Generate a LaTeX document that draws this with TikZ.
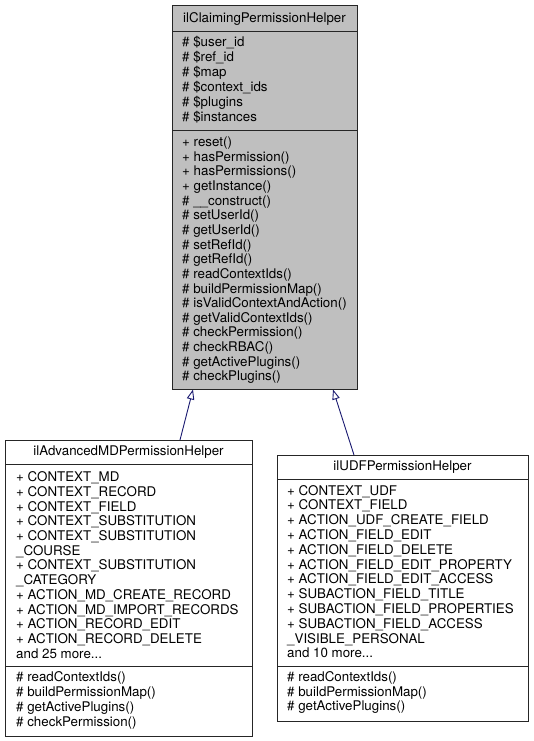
\documentclass[tikz,border=0pt]{standalone}
\usepackage{fontspec}
\setmainfont{TeX Gyre Heros}
\usetikzlibrary{arrows.meta}
\definecolor{grey75}{RGB}{191,191,191}
\definecolor{midnightblue}{RGB}{25,25,112}
\newcommand{\moredots}{...}
\tikzset{
  classbox/.style={draw=black!85, line width=0.9pt, inner sep=0pt, outer sep=0pt, anchor=north west},
  sepline/.style={draw=black!85, line width=0.9pt},
  member/.style={inner sep=0pt, anchor=base west, font=\fontsize{13.33}{14.7}\selectfont},
  classname/.style={inner sep=0pt, anchor=base, font=\fontsize{13.33}{14.7}\selectfont},
  inherit/.style={midnightblue, line width=0.9pt, -{Triangle[open, length=10pt, width=7.5pt]}},
}

\begin{document}
\begin{tikzpicture}[x=1pt, y=-1pt]
  \useasboundingbox (0,0) rectangle (533,741);
  % base class (grey, the one the page is about)
  \node[classbox, fill=grey75, minimum width=185pt, minimum height=384pt] (base) at (172,5) {};
  \draw[sepline] (172,31) -- (357,31) (172,130) -- (357,130);
  \node[classname] (base_name) at (264.5,23) {ilClaimingPermissionHelper};
  \foreach \txt [count=\i from 0] in {\# \$user\_id, \# \$ref\_id, \# \$map,
      \# \$context\_ids, \# \$plugins, \# \$instances} {
    \node[member] (base_a\i) at (182,47+14.9*\i) {\txt};
  }
  \foreach \txt [count=\i from 0] in {+ reset(), + hasPermission(), + hasPermissions(),
      + getInstance(), \# \_\_construct(), \# setUserId(), \# getUserId(), \# setRefId(),
      \# getRefId(), \# readContextIds(), \# buildPermissionMap(),
      \# isValidContextAndAction(), \# getValidContextIds(), \# checkPermission(),
      \# checkRBAC(), \# getActivePlugins(), \# checkPlugins()} {
    \node[member] (base_m\i) at (182,146.5+14.65*\i) {\txt};
  }

  % derived class: advanced metadata
  \node[classbox, fill=white, minimum width=247pt, minimum height=296pt] (advmd) at (5,440) {};
  \draw[sepline] (5,464) -- (252,464) (5,666) -- (252,666);
  \node[classname] (advmd_name) at (128.5,455.5) {ilAdvancedMDPermissionHelper};
  \foreach \txt [count=\i from 0] in {+ CONTEXT\_MD, + CONTEXT\_RECORD, + CONTEXT\_FIELD,
      + CONTEXT\_SUBSTITUTION, + CONTEXT\_SUBSTITUTION, \_COURSE, + CONTEXT\_SUBSTITUTION,
      \_CATEGORY, + ACTION\_MD\_CREATE\_RECORD, + ACTION\_MD\_IMPORT\_RECORDS,
      + ACTION\_RECORD\_EDIT, + ACTION\_RECORD\_DELETE, and 25 more\moredots} {
    \node[member] (advmd_a\i) at (16,481.7+14.7*\i) {\txt};
  }
  \foreach \txt [count=\i from 0] in {\# readContextIds(), \# buildPermissionMap(),
      \# getActivePlugins(), \# checkPermission()} {
    \node[member] (advmd_m\i) at (16,681.7+14.9*\i) {\txt};
  }

  % derived class: user defined fields
  \node[classbox, fill=white, minimum width=251pt, minimum height=266pt] (udf) at (277,455) {};
  \draw[sepline] (277,479) -- (528,479) (277,666) -- (528,666);
  \node[classname] (udf_name) at (402.5,470) {ilUDFPermissionHelper};
  \foreach \txt [count=\i from 0] in {+ CONTEXT\_UDF, + CONTEXT\_FIELD,
      + ACTION\_UDF\_CREATE\_FIELD, + ACTION\_FIELD\_EDIT, + ACTION\_FIELD\_DELETE,
      + ACTION\_FIELD\_EDIT\_PROPERTY, + ACTION\_FIELD\_EDIT\_ACCESS,
      + SUBACTION\_FIELD\_TITLE, + SUBACTION\_FIELD\_PROPERTIES,
      + SUBACTION\_FIELD\_ACCESS, \_VISIBLE\_PERSONAL, and 10 more\moredots} {
    \node[member] (udf_a\i) at (287,495+14.8*\i) {\txt};
  }
  \foreach \txt [count=\i from 0] in {\# readContextIds(), \# buildPermissionMap(),
      \# getActivePlugins()} {
    \node[member] (udf_m\i) at (287,681.7+14.3*\i) {\txt};
  }

  % inheritance edges
  \coordinate (advmd_up) at (180,440);
  \coordinate (base_in1) at (193,389.5);
  \coordinate (udf_up) at (354,455);
  \coordinate (base_in2) at (333,389.5);
  \draw[inherit] (advmd_up) -- (base_in1);
  \draw[inherit] (udf_up) -- (base_in2);
\end{tikzpicture}
\end{document}
